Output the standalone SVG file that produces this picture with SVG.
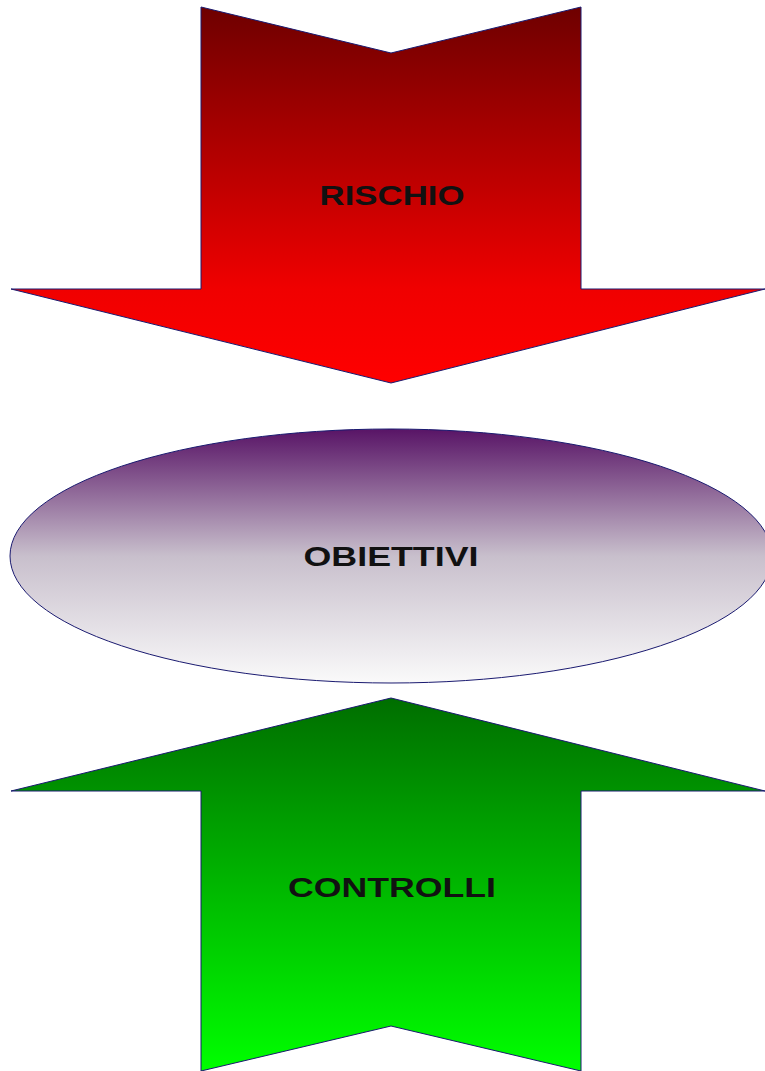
<svg xmlns="http://www.w3.org/2000/svg" width="765" height="1071" viewBox="0 0 765 1071">
<defs>
<linearGradient id="gRed" x1="0" y1="0" x2="0" y2="1"><stop offset="0" stop-color="#6e0000"/><stop offset="0.75" stop-color="#f00000"/><stop offset="1" stop-color="#ff0000"/></linearGradient>
<linearGradient id="gPurple" x1="0" y1="0" x2="0" y2="1"><stop offset="0" stop-color="#581466"/><stop offset="0.5" stop-color="#c8bfcc"/><stop offset="1" stop-color="#fafafa"/></linearGradient>
<linearGradient id="gGreen" x1="0" y1="0" x2="0" y2="1"><stop offset="0" stop-color="#006e00"/><stop offset="1" stop-color="#00ff00"/></linearGradient>
</defs>
<style>
.shape{stroke:#1a1a70;stroke-width:1}
.lbl{font-family:"Liberation Sans",Arial,sans-serif;font-weight:bold;font-size:27px;fill:#111;text-anchor:middle}
</style>
<rect width="765" height="1071" fill="#fff"/>
<g id="rischio">
<polygon class="shape" fill="url(#gRed)" points="201,7 391,53 581,7 581,289 765,289 391,383 11,289 201,289"/>
<text class="lbl" x="392" y="205" textLength="145" lengthAdjust="spacingAndGlyphs">RISCHIO</text>
</g>
<g id="obiettivi">
<ellipse class="shape" fill="url(#gPurple)" cx="391" cy="556" rx="381" ry="127"/>
<text class="lbl" x="391" y="566" textLength="175" lengthAdjust="spacingAndGlyphs">OBIETTIVI</text>
</g>
<g id="controlli">
<polygon class="shape" fill="url(#gGreen)" points="391,698 765,791 581,791 581,1071 391,1026 201,1071 201,791 11,791"/>
<text class="lbl" x="392" y="897" textLength="208" lengthAdjust="spacingAndGlyphs">CONTROLLI</text>
</g>
<g id="connectors"></g>
</svg>
